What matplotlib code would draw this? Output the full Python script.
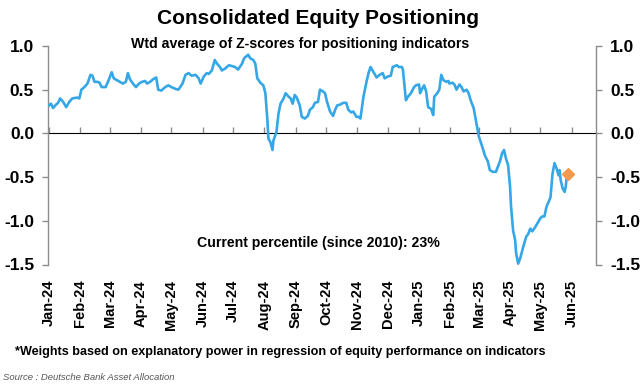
import matplotlib
matplotlib.use("Agg")
import matplotlib.pyplot as plt
import matplotlib.dates as mdates
import numpy as np
import pandas as pd

# ---- data ----
dates = [
    "2024-01-01", "2024-01-03", "2024-01-05", "2024-01-08", "2024-01-10", "2024-01-12",
    "2024-01-15", "2024-01-18", "2024-01-21", "2024-01-24", "2024-01-29", "2024-01-31",
    "2024-02-02", "2024-02-05", "2024-02-08", "2024-02-11", "2024-02-13", "2024-02-15",
    "2024-02-18", "2024-02-20", "2024-02-22", "2024-02-26", "2024-02-29", "2024-03-03",
    "2024-03-05", "2024-03-08", "2024-03-11", "2024-03-14", "2024-03-17", "2024-03-19",
    "2024-03-21", "2024-03-24", "2024-03-27", "2024-03-30", "2024-04-02", "2024-04-05",
    "2024-04-07", "2024-04-10", "2024-04-13", "2024-04-16", "2024-04-18", "2024-04-21",
    "2024-04-25", "2024-04-28", "2024-05-01", "2024-05-05", "2024-05-08", "2024-05-12",
    "2024-05-15", "2024-05-18", "2024-05-21", "2024-05-25", "2024-05-28", "2024-05-30",
    "2024-06-02", "2024-06-05", "2024-06-07", "2024-06-10", "2024-06-13", "2024-06-15",
    "2024-06-18", "2024-06-20", "2024-06-23", "2024-06-27", "2024-06-30", "2024-07-03",
    "2024-07-06", "2024-07-10", "2024-07-12", "2024-07-14", "2024-07-16", "2024-07-18",
    "2024-07-21", "2024-07-23", "2024-07-25", "2024-07-28", "2024-07-31", "2024-08-02",
    "2024-08-04", "2024-08-05", "2024-08-07", "2024-08-09", "2024-08-10", "2024-08-13",
    "2024-08-15", "2024-08-17", "2024-08-20", "2024-08-22", "2024-08-25", "2024-08-27",
    "2024-08-29", "2024-08-31", "2024-09-02", "2024-09-05", "2024-09-07", "2024-09-10",
    "2024-09-13", "2024-09-15", "2024-09-18", "2024-09-20", "2024-09-23", "2024-09-25",
    "2024-09-28", "2024-09-30", "2024-10-02", "2024-10-05", "2024-10-08", "2024-10-10",
    "2024-10-12", "2024-10-15", "2024-10-18", "2024-10-21", "2024-10-23", "2024-10-26",
    "2024-10-28", "2024-10-31", "2024-11-02", "2024-11-04", "2024-11-07", "2024-11-10",
    "2024-11-12", "2024-11-14", "2024-11-17", "2024-11-20", "2024-11-23", "2024-11-26",
    "2024-11-28", "2024-12-01", "2024-12-04", "2024-12-06", "2024-12-08", "2024-12-10",
    "2024-12-12", "2024-12-15", "2024-12-16", "2024-12-19", "2024-12-21", "2024-12-24",
    "2024-12-27", "2024-12-29", "2025-01-01", "2025-01-02", "2025-01-04", "2025-01-06",
    "2025-01-08", "2025-01-10", "2025-01-13", "2025-01-15", "2025-01-16", "2025-01-19",
    "2025-01-21", "2025-01-23", "2025-01-25", "2025-01-28", "2025-01-30", "2025-01-31",
    "2025-02-03", "2025-02-05", "2025-02-07", "2025-02-10", "2025-02-12", "2025-02-14",
    "2025-02-17", "2025-02-19", "2025-02-21", "2025-02-24", "2025-02-27", "2025-03-01",
    "2025-03-03", "2025-03-05", "2025-03-07", "2025-03-10", "2025-03-12", "2025-03-15",
    "2025-03-18", "2025-03-20", "2025-03-22", "2025-03-24", "2025-03-26", "2025-03-28",
    "2025-03-30", "2025-04-01", "2025-04-02", "2025-04-04", "2025-04-06", "2025-04-07",
    "2025-04-09", "2025-04-11", "2025-04-14", "2025-04-17", "2025-04-19", "2025-04-21",
    "2025-04-23", "2025-04-26", "2025-04-28", "2025-05-01", "2025-05-03", "2025-05-05",
    "2025-05-07", "2025-05-10", "2025-05-11", "2025-05-13", "2025-05-15", "2025-05-17",
    "2025-05-19", "2025-05-20", "2025-05-21", "2025-05-23", "2025-05-25", "2025-05-26",
    "2025-05-27", "2025-05-28",
]
zscore = [
    0.32, 0.34, 0.29, 0.33, 0.35, 0.40,
    0.36, 0.30, 0.36, 0.40, 0.41, 0.40,
    0.50, 0.53, 0.57, 0.67, 0.66, 0.59,
    0.59, 0.58, 0.53, 0.53, 0.61, 0.70,
    0.63, 0.61, 0.59, 0.57, 0.59, 0.69,
    0.62, 0.57, 0.53, 0.57, 0.59, 0.60,
    0.57, 0.59, 0.62, 0.64, 0.50, 0.49,
    0.53, 0.55, 0.53, 0.51, 0.50, 0.57,
    0.67, 0.69, 0.66, 0.67, 0.63, 0.57,
    0.65, 0.69, 0.68, 0.72, 0.84, 0.80,
    0.76, 0.72, 0.74, 0.78, 0.77, 0.76,
    0.73, 0.80, 0.86, 0.88, 0.90, 0.86,
    0.84, 0.80, 0.63, 0.58, 0.55, 0.46,
    0.15, -0.06, -0.10, -0.19, -0.08, 0.02,
    0.23, 0.34, 0.40, 0.46, 0.42, 0.40,
    0.34, 0.44, 0.41, 0.32, 0.19, 0.17,
    0.20, 0.27, 0.30, 0.35, 0.36, 0.50,
    0.48, 0.46, 0.36, 0.25, 0.20, 0.27,
    0.32, 0.33, 0.35, 0.35, 0.27, 0.24,
    0.25, 0.19, 0.19, 0.17, 0.42, 0.59,
    0.69, 0.76, 0.70, 0.64, 0.67, 0.69,
    0.63, 0.65, 0.66, 0.76, 0.77, 0.78,
    0.76, 0.76, 0.73, 0.38, 0.42, 0.46,
    0.53, 0.55, 0.56, 0.46, 0.51, 0.55,
    0.48, 0.30, 0.28, 0.21, 0.42, 0.46,
    0.50, 0.67, 0.61, 0.59, 0.60, 0.57,
    0.58, 0.56, 0.50, 0.56, 0.53, 0.48,
    0.50, 0.46, 0.38, 0.29, 0.10, -0.03,
    -0.10, -0.17, -0.25, -0.32, -0.42, -0.44,
    -0.44, -0.38, -0.32, -0.23, -0.19, -0.29,
    -0.36, -0.61, -0.84, -1.11, -1.22, -1.37,
    -1.49, -1.43, -1.30, -1.18, -1.15, -1.09,
    -1.12, -1.07, -1.03, -0.97, -0.95, -0.95,
    -0.84, -0.76, -0.73, -0.46, -0.34, -0.40,
    -0.48, -0.42, -0.53, -0.63, -0.67, -0.61,
    -0.51, -0.46,
]
month_ticks = pd.date_range("2024-01-01", "2025-06-01", freq="MS")
y_ticks = [-1.5, -1.0, -0.5, 0.0, 0.5, 1.0]

title = "Consolidated Equity Positioning"
subtitle = "Wtd average of Z-scores for positioning indicators"
annotation = "Current percentile (since 2010): 23%"
footnote = "*Weights based on explanatory power in regression of equity performance on indicators"
source = "Source : Deutsche Bank Asset Allocation"

# ---- style ----
NARROW = ["Liberation Sans Narrow", "Liberation Sans", "DejaVu Sans"]
LINE_COLOR = "#35A7E6"
DOT_COLOR = "#F39A4E"
AXIS_COLOR = "#8C8C8C"

x = pd.to_datetime(dates)

fig = plt.figure(figsize=(6.41, 3.90), dpi=100)
ax = fig.add_axes([48 / 641, 1 - 264.5 / 390, (596 - 48) / 641, (264.5 - 46) / 390])

ax.plot(x, zscore, color=LINE_COLOR, lw=1.9, solid_joinstyle="round", zorder=3)
ax.plot(x[-1:], zscore[-1:], linestyle="none", marker="D", ms=6,
        color=DOT_COLOR, mec=DOT_COLOR, zorder=4)

ax.set_ylim(-1.5, 1.0)
ax.set_xlim(pd.Timestamp("2023-12-31"), pd.Timestamp("2025-06-25"))
ax.set_yticks(y_ticks)
ax.yaxis.set_major_formatter(matplotlib.ticker.FormatStrFormatter("%.1f"))

for s in ["top", "bottom"]:
    ax.spines[s].set_visible(False)
for s in ["left", "right"]:
    ax.spines[s].set_color(AXIS_COLOR)
    ax.spines[s].set_linewidth(1.0)

ax.tick_params(axis="y", which="both", left=True, right=True, labelleft=True,
               labelright=True, direction="out", length=4, width=1.0,
               color=AXIS_COLOR, pad=6)
for lab in ax.get_yticklabels():
    lab.set_fontfamily(NARROW)
    lab.set_fontweight("bold")
    lab.set_fontsize(12.5)

# month labels at bottom, rotated
ax.set_xticks(month_ticks)
ax.xaxis.set_major_formatter(mdates.DateFormatter("%b-%y"))
ax.tick_params(axis="x", length=0, pad=11)
for lab in ax.get_xticklabels():
    lab.set_rotation(90)
    lab.set_fontfamily(NARROW)
    lab.set_fontweight("bold")
    lab.set_fontsize(10.5)
    lab.set_va("top")
    lab.set_ha("center")

# zero axis with tick marks
sec = ax.secondary_xaxis(1.5 / 2.5)
sec.set_xticks(month_ticks)
sec.set_xticklabels([])
sec.spines["bottom"].set_color(AXIS_COLOR)
sec.spines["bottom"].set_linewidth(1.0)
sec.tick_params(axis="x", direction="out", length=4, width=1.0, color=AXIS_COLOR)

fig.text(318 / 641, 1 - 19 / 390, title, ha="center", va="center",
         fontfamily=NARROW, fontweight="bold", fontsize=15)
fig.text(300 / 641, 1 - 44 / 390, subtitle, ha="center", va="center",
         fontfamily=NARROW, fontweight="bold", fontsize=10.2)
fig.text(318 / 641, 1 - 243 / 390, annotation, ha="center", va="center",
         fontfamily=NARROW, fontweight="bold", fontsize=10.2)
fig.text(15 / 641, 1 - 352 / 390, footnote, ha="left", va="center",
         fontfamily=NARROW, fontweight="bold", fontsize=9.1)
fig.text(3 / 641, 1 - 378 / 390, source, ha="left", va="center",
         fontfamily=["Liberation Sans", "DejaVu Sans"], style="italic",
         fontsize=6.8, color="#555555")

fig.savefig("out.png", dpi=100, facecolor="white")
